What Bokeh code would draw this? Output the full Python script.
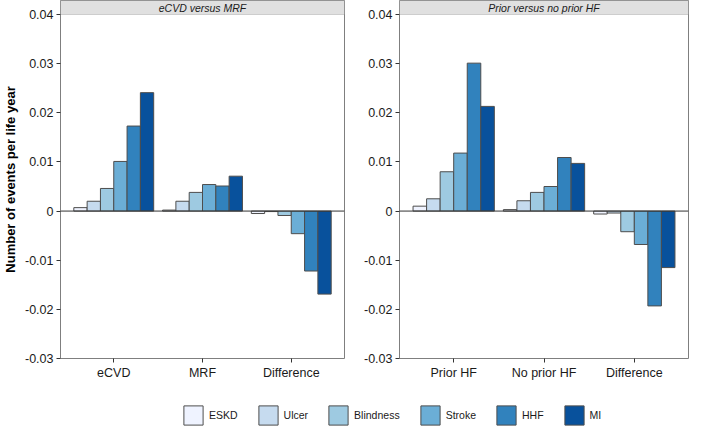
from bokeh.plotting import figure
from bokeh.models import (ColumnDataSource, Range1d, FixedTicker, Span, BoxAnnotation,
                          Label, Legend, LegendItem)
from bokeh.layouts import column, row
from bokeh.transform import dodge
from bokeh.embed import file_html
from bokeh.resources import INLINE

# ---------------- data ----------------
series = ["ESKD", "Ulcer", "Blindness", "Stroke", "HHF", "MI"]
colors = ["#eff3ff", "#c6dbef", "#9ecae1", "#6baed6", "#3182bd", "#08519c"]

left_title = "eCVD versus MRF"
left_groups = ["eCVD", "MRF", "Difference"]
left_ecvd = [0.0007, 0.0020, 0.0046, 0.0101, 0.0173, 0.0241]
left_mrf = [0.0002, 0.0020, 0.0038, 0.0054, 0.0051, 0.0071]
left_diff = [-0.0005, -0.0001, -0.0009, -0.0046, -0.0122, -0.0169]

right_title = "Prior versus no prior HF"
right_groups = ["Prior HF", "No prior HF", "Difference"]
right_prior = [0.0010, 0.0025, 0.0080, 0.0118, 0.0301, 0.0213]
right_noprior = [0.0003, 0.0021, 0.0038, 0.0050, 0.0109, 0.0097]
right_diff = [-0.0006, -0.0004, -0.0042, -0.0068, -0.0193, -0.0115]

y_ticks = [-0.03, -0.02, -0.01, 0.0, 0.01, 0.02, 0.03, 0.04]
y_tick_labels = ["-0.03", "-0.02", "-0.01", "0", "0.01", "0.02", "0.03", "0.04"]

FONT = "Liberation Sans"
BAR_W = 0.15
Y_TOP = 0.04285   # includes strip area above 0.04
PANEL_H = 386


def make_panel(title, groups, group_values, width, show_ylabel):
    p = figure(width=width, height=PANEL_H, output_backend="svg", toolbar_location=None,
               x_range=Range1d(0.4, 3.6), y_range=Range1d(-0.03, Y_TOP),
               min_border_left=50, min_border_right=5 if show_ylabel else 2,
               min_border_top=0, min_border_bottom=28)
    p.xgrid.visible = False
    p.ygrid.visible = False
    p.outline_line_color = "#7f7f7f"
    p.outline_line_width = 1
    p.background_fill_color = "white"
    p.border_fill_color = "white"

    xs = list(range(1, len(groups) + 1))
    n = len(series)
    for i, (name, col) in enumerate(zip(series, colors)):
        tops = [gv[i] for gv in group_values]
        src = ColumnDataSource(dict(x=xs, top=tops, bottom=[0.0] * len(xs)))
        off = (i - (n - 1) / 2) * BAR_W
        p.vbar(x=dodge("x", off), top="top", bottom="bottom", width=BAR_W, source=src,
               fill_color=col, line_color="#4d4d4d", line_width=1)

    p.add_layout(Span(location=0, dimension="width", line_color="#333333", line_width=1))

    # strip header
    p.add_layout(BoxAnnotation(bottom=0.04, fill_color="#e0e0e0", fill_alpha=1,
                               line_color="#7f7f7f", line_width=1, level="overlay"))
    p.add_layout(Label(x=2.0, y=(0.04 + Y_TOP) / 2, text=title, text_align="center",
                       text_baseline="middle", text_font=FONT, text_font_size="10.5px",
                       text_font_style="italic", text_color="#1a1a1a", level="overlay"))

    # axes
    xa = p.xaxis[0]
    xa.ticker = FixedTicker(ticks=xs)
    xa.major_label_overrides = {x: g for x, g in zip(xs, groups)}
    ya = p.yaxis[0]
    ya.ticker = FixedTicker(ticks=y_ticks)
    ya.major_label_overrides = {t: s for t, s in zip(y_ticks, y_tick_labels)}
    for ax in (xa, ya):
        ax.axis_line_color = None
        ax.minor_tick_line_color = None
        ax.major_tick_in = 0
        ax.major_tick_out = 4
        ax.major_tick_line_color = "#333333"
        ax.major_label_text_font = FONT
        ax.major_label_text_font_size = "12.5px"
        ax.major_label_text_color = "#1a1a1a"
        ax.major_label_standoff = 3
    if show_ylabel:
        ya.axis_label = "Number of events per life year"
        ya.axis_label_text_font = FONT
        ya.axis_label_text_font_size = "13px"
        ya.axis_label_text_font_style = "bold"
        ya.axis_label_text_color = "#000000"
        ya.axis_label_standoff = 4
    return p


p1 = make_panel(left_title, left_groups, [left_ecvd, left_mrf, left_diff], 349, True)
p2 = make_panel(right_title, right_groups, [right_prior, right_noprior, right_diff], 341, False)

# legend figure (dummy points lie outside its visible range; only the legend shows)
pl = figure(width=690, height=42, output_backend="svg", toolbar_location=None,
            x_range=Range1d(0, 1), y_range=Range1d(0, 1),
            x_axis_location=None, y_axis_location=None,
            min_border_left=0, min_border_right=0, min_border_top=0, min_border_bottom=0)
pl.outline_line_color = None
pl.xgrid.visible = False
pl.ygrid.visible = False
items = []
for name, col in zip(series, colors):
    r = pl.vbar(x=[5], top=[6], bottom=[5], width=0.1, fill_color=col,
                line_color="#4d4d4d", line_width=1)
    items.append(LegendItem(label=name, renderers=[r]))
leg = Legend(items=items, orientation="horizontal", location=(181, 1),
             glyph_width=24, glyph_height=24, label_standoff=4, spacing=18,
             padding=0, margin=0, border_line_color=None, background_fill_alpha=0,
             label_text_font=FONT, label_text_font_size="10.5px", label_text_color="#1a1a1a")
pl.add_layout(leg, "center")

layout = column(row(p1, p2), pl)

open("out.html", "w").write(file_html(layout, INLINE))
